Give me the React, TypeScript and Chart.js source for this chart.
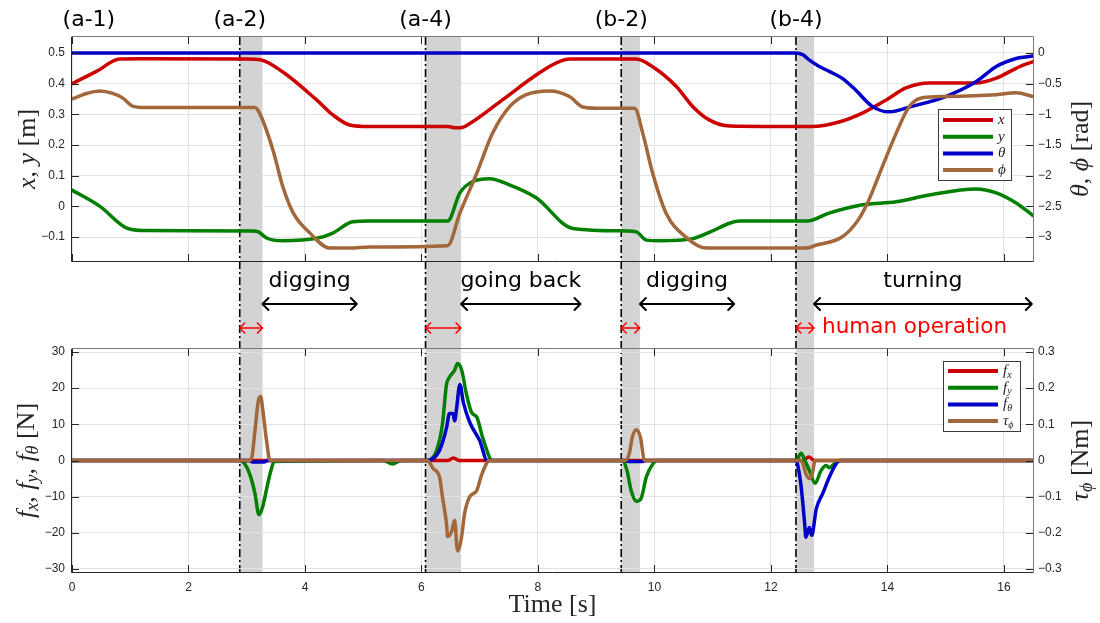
import React, { useEffect, useRef } from "react";
import { Chart, registerables } from "chart.js";
Chart.register(...registerables);

// ---------- data (top panel) ----------
const timeTicks = [0, 2, 4, 6, 8, 10, 12, 14, 16];
const posTicks = [-0.1, 0, 0.1, 0.2, 0.3, 0.4, 0.5];
const angTicks = [-3, -2.5, -2, -1.5, -1, -0.5, 0];
const forceTicks = [-30, -20, -10, 0, 10, 20, 30];
const torqueTicks = [-0.3, -0.2, -0.1, 0, 0.1, 0.2, 0.3];

const xT = [0, 0.42, 0.82, 1.2, 3.0, 3.23, 3.62, 4.2, 4.48, 4.77, 5.1, 6.45, 6.6, 6.7, 6.83, 7.39, 7.97, 8.3, 8.55, 9.69, 9.97, 10.38, 10.66, 10.94, 11.29, 12.7, 13.17, 13.57, 13.98, 14.32, 14.72, 15.52, 15.87, 16.21, 16.5];
const xV = [0.400, 0.440, 0.480, 0.481, 0.480, 0.478, 0.438, 0.347, 0.298, 0.265, 0.260, 0.260, 0.256, 0.257, 0.270, 0.347, 0.428, 0.466, 0.480, 0.480, 0.455, 0.390, 0.325, 0.282, 0.262, 0.260, 0.275, 0.304, 0.347, 0.386, 0.402, 0.402, 0.418, 0.450, 0.472];

const yT = [0, 0.48, 0.96, 1.3, 3.1, 3.2, 3.34, 3.62, 4.2, 4.48, 4.82, 5.1, 6.45, 6.66, 6.88, 7.17, 7.51, 7.97, 8.6, 9.52, 9.69, 9.86, 10.08, 10.66, 10.94, 11.29, 11.46, 12.62, 13.0, 13.57, 14.15, 14.72, 15.52, 15.87, 16.21, 16.5];
const yV = [0.053, 0.000, -0.072, -0.079, -0.080, -0.083, -0.103, -0.112, -0.104, -0.087, -0.050, -0.048, -0.048, 0.044, 0.081, 0.090, 0.070, 0.028, -0.072, -0.080, -0.083, -0.110, -0.112, -0.105, -0.085, -0.055, -0.048, -0.048, -0.022, 0.005, 0.015, 0.037, 0.057, 0.044, 0.011, -0.030];

const thT = [0, 12.43, 12.55, 12.65, 12.83, 13.0, 13.22, 13.45, 13.74, 14.03, 14.42, 15.0, 15.52, 15.87, 16.21, 16.5];
const thV = [0, 0, -0.03, -0.11, -0.22, -0.30, -0.41, -0.60, -0.87, -0.96, -0.87, -0.71, -0.47, -0.22, -0.09, -0.05];

const phT = [0, 0.25, 0.48, 0.7, 0.88, 1.05, 1.3, 3.14, 3.22, 3.45, 3.62, 3.8, 4.08, 4.43, 4.77, 5.12, 6.45, 6.66, 6.95, 7.22, 7.51, 7.8, 8.2, 8.54, 8.77, 9.0, 9.66, 9.8, 9.97, 10.2, 10.54, 10.89, 11.29, 12.6, 12.78, 13.22, 13.5, 13.68, 13.91, 14.15, 14.37, 14.6, 15.0, 15.87, 16.21, 16.5];
const phV = [-0.75, -0.66, -0.62, -0.66, -0.74, -0.87, -0.89, -0.89, -0.98, -1.58, -2.18, -2.61, -2.93, -3.18, -3.18, -3.16, -3.14, -2.61, -1.96, -1.31, -0.88, -0.68, -0.62, -0.71, -0.88, -0.90, -0.90, -1.31, -1.96, -2.61, -3.00, -3.18, -3.18, -3.18, -3.13, -3.00, -2.72, -2.40, -1.86, -1.31, -0.88, -0.73, -0.71, -0.68, -0.65, -0.71];

// ---------- data (bottom panel) ----------
const fxT = [0, 6.1, 6.45, 6.55, 6.65, 7.1, 12.55, 12.65, 12.75, 16.5];
const fxV = [0, 0, 0, 0.7, 0, 0, 0, 1, 0, 0];

const fyT = [0, 2.88, 2.96, 3.05, 3.14, 3.21, 3.27, 3.34, 3.4, 3.48, 5.35, 5.5, 5.65, 6.09, 6.26, 6.36, 6.43, 6.48, 6.57, 6.62, 6.69, 6.77, 6.86, 6.95, 7.05, 7.22, 9.45, 9.53, 9.6, 9.69, 9.77, 9.86, 9.97, 10.04, 12.43, 12.52, 12.57, 12.66, 12.76, 12.86, 12.95, 13.0, 13.12, 13.2, 16.5];
const fyV = [0, 0, -0.8, -3.7, -9, -15, -13, -8, -3.7, -0.3, 0, -1, 0, 0, 2.8, 10, 21, 23, 25, 26.8, 25, 18.5, 13.3, 12, 6.4, 0, 0, -2.8, -8.3, -11.3, -10.5, -4.6, -1, 0, 0, 2, 0.5, -2.8, -6.3, -2.8, -1.4, -2, -0.5, 0, 0];

const fthT = [0, 3.05, 3.1, 3.3, 3.35, 6.1, 6.31, 6.43, 6.48, 6.54, 6.57, 6.6, 6.66, 6.72, 6.83, 7.0, 7.13, 9.5, 9.55, 9.8, 9.85, 12.43, 12.47, 12.52, 12.58, 12.6, 12.66, 12.7, 12.78, 12.89, 13.0, 13.12, 13.18, 16.5];
const fthV = [0, 0, -0.4, -0.4, 0, 0, 2.8, 9, 13, 13, 11, 14, 21, 16, 10.5, 5.5, 0, 0, -0.3, -0.3, 0, 0, -2, -7.4, -17.5, -21.2, -18.5, -20.7, -13.3, -9.1, -4.7, -0.9, 0, 0];

const tauT = [0, 2.88, 3.05, 3.09, 3.14, 3.2, 3.24, 3.27, 3.34, 3.4, 6.1, 6.2, 6.31, 6.36, 6.43, 6.45, 6.52, 6.57, 6.62, 6.69, 6.74, 6.83, 6.95, 7.03, 7.17, 9.5, 9.57, 9.62, 9.69, 9.76, 9.83, 12.5, 12.55, 12.6, 12.66, 12.71, 12.76, 16.5];
const tauV = [0, 0, 0, 0.01, 0.08, 0.166, 0.177, 0.147, 0.055, 0, 0, -0.022, -0.046, -0.1, -0.175, -0.21, -0.195, -0.165, -0.25, -0.21, -0.147, -0.1, -0.083, -0.041, 0, 0, 0.02, 0.064, 0.085, 0.064, 0, 0, -0.009, -0.037, -0.05, -0.037, 0, 0];

// ---------- events / annotations ----------
const eventStarts = [2.88, 6.07, 9.43, 12.43];
const eventEnds = [3.27, 6.68, 9.75, 12.74];
const stageTimes = [0.29, 2.88, 6.07, 9.43, 12.43];
const stageLabels = ["(a-1)", "(a-2)", "(a-4)", "(b-2)", "(b-4)"];
const phaseLabels = ["digging", "going back", "digging", "turning"];
const phaseStarts = [3.27, 6.68, 9.75, 12.74];
const phaseEnds = [4.89, 8.73, 11.37, 16.48];
const humanLabel = "human operation";

// ---------- layout / style ----------
const W = 1100, H = 623;
const LEFT = 72, RIGHT = 1033, TOP1 = 37, BOT1 = 261, TOP2 = 349, BOT2 = 572;
const INK = "#262626";
const GRID = "#e2e2e2";
const RED = "#cc0000", GREEN = "#007f00", BLUE = "#0000c8", BROWN = "#a2673a";
const SERIF = "'Liberation Serif', 'DejaVu Serif', serif";
const SANS = "'DejaVu Sans', sans-serif";
const TICK_FONT = { family: "'Liberation Sans', Arial, sans-serif", size: 12 };

function fmt(v: number) {
  const r = Math.round(v * 100) / 100;
  return (r < 0 ? "\u2212" : "") + String(Math.abs(r));
}
const mk = (ts: number[], vs: number[]) => ts.map((t, i) => ({ x: t, y: vs[i] }));

type Part = { t: string; f: string; dy?: number };
function drawRich(ctx: CanvasRenderingContext2D, parts: Part[], x: number, y: number, rot: number, align: "center" | "left", color: string) {
  ctx.save();
  ctx.translate(x, y);
  ctx.rotate(rot);
  ctx.fillStyle = color;
  ctx.textBaseline = "middle";
  ctx.textAlign = "left";
  let w = 0;
  for (const p of parts) { ctx.font = p.f; w += ctx.measureText(p.t).width; }
  let cx = align === "center" ? -w / 2 : 0;
  for (const p of parts) {
    ctx.font = p.f;
    ctx.fillText(p.t, cx, p.dy || 0);
    cx += ctx.measureText(p.t).width;
  }
  ctx.restore();
}

function arrow(ctx: CanvasRenderingContext2D, x1: number, x2: number, y: number, color: string, lw: number, head: number) {
  ctx.save();
  ctx.strokeStyle = color;
  ctx.lineWidth = lw;
  ctx.lineCap = "round";
  ctx.lineJoin = "round";
  ctx.beginPath();
  ctx.moveTo(x1, y); ctx.lineTo(x2, y);
  ctx.moveTo(x1 + head, y - head); ctx.lineTo(x1, y); ctx.lineTo(x1 + head, y + head);
  ctx.moveTo(x2 - head, y - head); ctx.lineTo(x2, y); ctx.lineTo(x2 - head, y + head);
  ctx.stroke();
  ctx.restore();
}

function drawFrame(chart: any, leftTicks: number[], rightTicks: number[]) {
  const { ctx, chartArea: a, scales } = chart;
  ctx.save();
  ctx.lineWidth = 1;
  ctx.strokeStyle = INK;
  ctx.beginPath();
  for (const t of timeTicks) {
    const x = Math.round(scales.x.getPixelForValue(t)) + 0.5;
    ctx.moveTo(x, a.bottom); ctx.lineTo(x, a.bottom - 7);
    ctx.moveTo(x, a.top); ctx.lineTo(x, a.top + 7);
  }
  for (const v of leftTicks) {
    const y = Math.round(scales.y.getPixelForValue(v)) + 0.5;
    ctx.moveTo(a.left, y); ctx.lineTo(a.left + 7, y);
  }
  for (const v of rightTicks) {
    const y = Math.round(scales.y1.getPixelForValue(v)) + 0.5;
    ctx.moveTo(a.right, y); ctx.lineTo(a.right - 7, y);
  }
  ctx.stroke();
  ctx.beginPath();
  ctx.strokeStyle = INK;
  ctx.moveTo(a.left - 0.5, a.top); ctx.lineTo(a.left - 0.5, a.bottom + 0.5); ctx.lineTo(a.right + 0.5, a.bottom + 0.5);
  ctx.stroke();
  ctx.beginPath();
  ctx.strokeStyle = "#7a7a7a";
  ctx.moveTo(a.left - 0.5, a.top - 0.5); ctx.lineTo(a.right + 0.5, a.top - 0.5); ctx.lineTo(a.right + 0.5, a.bottom + 0.5);
  ctx.stroke();
  ctx.restore();
}

function drawLegend(ctx: CanvasRenderingContext2D, x: number, y: number, w: number, h: number, first: number, rowH: number, rows: { color: string; parts: Part[] }[]) {
  ctx.save();
  ctx.fillStyle = "#ffffff";
  ctx.fillRect(x, y, w, h);
  ctx.strokeStyle = "#3a3a3a";
  ctx.lineWidth = 1;
  ctx.strokeRect(x + 0.5, y + 0.5, w, h);
  rows.forEach((r, i) => {
    const cy = y + first + i * rowH;
    ctx.beginPath();
    ctx.strokeStyle = r.color;
    ctx.lineWidth = 4;
    ctx.moveTo(x + 5, cy); ctx.lineTo(x + 55, cy);
    ctx.stroke();
    drawRich(ctx, r.parts, x + 60, cy, 0, "left", INK);
  });
  ctx.restore();
}

const it = (s: number) => `italic ${s}px ${SERIF}`;
const rm = (s: number) => `${s}px ${SERIF}`;

const topPlugin = {
  id: "topDecor",
  beforeDatasetsDraw(chart: any) {
    const { ctx, scales } = chart;
    ctx.save();
    ctx.fillStyle = "#d3d3d3";
    eventStarts.forEach((s, i) => {
      const x1 = scales.x.getPixelForValue(s);
      const x2 = scales.x.getPixelForValue(eventEnds[i]);
      ctx.fillRect(x1, TOP1, x2 - x1, BOT2 - TOP1);
    });
    ctx.strokeStyle = "#000";
    ctx.lineWidth = 1.6;
    ctx.setLineDash([8, 3, 2, 3]);
    eventStarts.forEach((s) => {
      const x = scales.x.getPixelForValue(s);
      ctx.beginPath();
      ctx.moveTo(x, TOP1);
      ctx.lineTo(x, BOT2);
      ctx.stroke();
    });
    ctx.restore();
  },
  afterDraw(chart: any) {
    const { ctx, scales, chartArea: a } = chart;
    drawFrame(chart, posTicks, angTicks);
    const px = (t: number) => scales.x.getPixelForValue(t);
    ctx.save();
    ctx.fillStyle = "#000";
    ctx.font = `22px ${SANS}`;
    ctx.textAlign = "center";
    ctx.textBaseline = "middle";
    stageTimes.forEach((t, i) => ctx.fillText(stageLabels[i], px(t), 20));
    phaseLabels.forEach((lab, i) => {
      const x1 = px(phaseStarts[i]);
      const x2 = px(phaseEnds[i]);
      ctx.fillStyle = "#000";
      ctx.font = `22px ${SANS}`;
      ctx.fillText(lab, (x1 + x2) / 2, 281);
      arrow(ctx, x1, x2, 304, "#000", 2, 6);
    });
    eventStarts.forEach((s, i) => arrow(ctx, px(s), px(eventEnds[i]), 328, "#ff0000", 1.6, 5));
    ctx.fillStyle = "#ff0000";
    ctx.font = `21.5px ${SANS}`;
    ctx.textAlign = "left";
    ctx.fillText(humanLabel, px(eventEnds[3]) + 8, 327);
    ctx.restore();

    drawRich(ctx, [{ t: "x", f: it(26) }, { t: ", ", f: rm(26) }, { t: "y", f: it(26) }, { t: " [m]", f: rm(26) }], 28, (a.top + a.bottom) / 2, -Math.PI / 2, "center", INK);
    drawRich(ctx, [{ t: "\u03b8", f: it(26) }, { t: ", ", f: rm(26) }, { t: "\u03d5", f: it(26) }, { t: " [rad]", f: rm(26) }], 1081, (a.top + a.bottom) / 2, -Math.PI / 2, "center", INK);

    drawLegend(ctx, RIGHT - 95, TOP1 + 72, 73, 71, 11, 16.7, [
      { color: RED, parts: [{ t: "x", f: it(15) }] },
      { color: GREEN, parts: [{ t: "y", f: it(15) }] },
      { color: BLUE, parts: [{ t: "\u03b8", f: it(15) }] },
      { color: BROWN, parts: [{ t: "\u03d5", f: it(15) }] },
    ]);
  },
};

const botPlugin = {
  id: "botDecor",
  afterDraw(chart: any) {
    const { ctx, chartArea: a } = chart;
    drawFrame(chart, forceTicks, torqueTicks);
    const cy = (a.top + a.bottom) / 2;
    drawRich(ctx, [
      { t: "f", f: it(26) }, { t: "x", f: it(18), dy: 6 }, { t: ", ", f: rm(26) },
      { t: "f", f: it(26) }, { t: "y", f: it(18), dy: 6 }, { t: ", ", f: rm(26) },
      { t: "f", f: it(26) }, { t: "\u03b8", f: it(18), dy: 6 }, { t: " [N]", f: rm(26) },
    ], 27, cy, -Math.PI / 2, "center", INK);
    drawRich(ctx, [{ t: "\u03c4", f: it(26) }, { t: "\u03d5", f: it(18), dy: 6 }, { t: " [Nm]", f: rm(26) }], 1081, cy, -Math.PI / 2, "center", INK);
    drawRich(ctx, [{ t: "Time [s]", f: rm(26) }], (a.left + a.right) / 2, 605, 0, "center", INK);
    drawLegend(ctx, RIGHT - 90, TOP2 + 12, 77, 70, 10, 16.7, [
      { color: RED, parts: [{ t: "f", f: it(15) }, { t: "x", f: it(10), dy: 4 }] },
      { color: GREEN, parts: [{ t: "f", f: it(15) }, { t: "y", f: it(10), dy: 4 }] },
      { color: BLUE, parts: [{ t: "f", f: it(15) }, { t: "\u03b8", f: it(10), dy: 4 }] },
      { color: BROWN, parts: [{ t: "\u03c4", f: it(15) }, { t: "\u03d5", f: it(10), dy: 4 }] },
    ]);
  },
};

// order: later legend entries are drawn on top (lower order = drawn last)
function lineDs(label: string, data: any[], color: string, axis: string, order: number) {
  return {
    label,
    data,
    order,
    borderColor: color,
    backgroundColor: color,
    borderWidth: 3.5,
    pointRadius: 0,
    fill: false,
    cubicInterpolationMode: "monotone" as const,
    borderCapStyle: "round" as const,
    borderJoinStyle: "round" as const,
    yAxisID: axis,
  };
}

function setTicks(values: number[]) {
  return (axis: any) => { axis.ticks = values.map((v) => ({ value: v })); };
}

function yAxis(pos: "left" | "right", min: number, max: number, ticks: number[], grid: boolean, width: number, pad: number) {
  return {
    type: "linear" as const,
    position: pos,
    min, max,
    afterBuildTicks: setTicks(ticks),
    afterFit: (s: any) => { s.width = width; },
    grid: { display: grid, color: GRID, drawTicks: false },
    border: { display: false },
    ticks: { font: TICK_FONT, color: INK, padding: pad, callback: (v: any) => fmt(Number(v)) },
  };
}

export default function App() {
  const topRef = useRef<HTMLCanvasElement>(null);
  const botRef = useRef<HTMLCanvasElement>(null);

  useEffect(() => {
    const top = new Chart(topRef.current as HTMLCanvasElement, {
      type: "line",
      data: {
        datasets: [
          lineDs("x", mk(xT, xV), RED, "y", 4),
          lineDs("y", mk(yT, yV), GREEN, "y", 3),
          lineDs("theta", mk(thT, thV), BLUE, "y1", 2),
          lineDs("phi", mk(phT, phV), BROWN, "y1", 1),
        ] as any,
      },
      options: {
        animation: false,
        responsive: false,
        events: [],
        layout: { padding: { top: TOP1, left: 0, right: 0, bottom: 0 } },
        plugins: { legend: { display: false }, tooltip: { enabled: false } },
        scales: {
          x: {
            type: "linear", min: 0, max: 16.5,
            afterBuildTicks: setTicks(timeTicks),
            afterFit: (s: any) => { s.height = H - BOT1; },
            ticks: { display: false },
            grid: { color: GRID, drawTicks: false },
            border: { display: false },
          },
          y: yAxis("left", -0.178, 0.552, posTicks, true, LEFT, 7),
          y1: yAxis("right", -3.39, 0.26, angTicks, false, W - RIGHT, 5),
        } as any,
      },
      plugins: [topPlugin],
    });

    const bot = new Chart(botRef.current as HTMLCanvasElement, {
      type: "line",
      data: {
        datasets: [
          lineDs("fx", mk(fxT, fxV), RED, "y", 4),
          lineDs("fy", mk(fyT, fyV), GREEN, "y", 3),
          lineDs("ftheta", mk(fthT, fthV), BLUE, "y", 2),
          lineDs("tau", mk(tauT, tauV), BROWN, "y1", 1),
        ] as any,
      },
      options: {
        animation: false,
        responsive: false,
        events: [],
        layout: { padding: { top: TOP2, left: 0, right: 0, bottom: 0 } },
        plugins: { legend: { display: false }, tooltip: { enabled: false } },
        scales: {
          x: {
            type: "linear", min: 0, max: 16.5,
            afterBuildTicks: setTicks(timeTicks),
            afterFit: (s: any) => { s.height = H - BOT2; },
            ticks: { font: TICK_FONT, color: INK, padding: 8, maxRotation: 0, callback: (v: any) => fmt(Number(v)) },
            grid: { color: GRID, drawTicks: false },
            border: { display: false },
          },
          y: yAxis("left", -30.83, 30.83, forceTicks, true, LEFT, 7),
          y1: yAxis("right", -0.3083, 0.3083, torqueTicks, false, W - RIGHT, 5),
        } as any,
      },
      plugins: [botPlugin],
    });

    return () => { top.destroy(); bot.destroy(); };
  }, []);

  return (
    <div style={{ position: "absolute", left: 0, top: 0, width: W, height: H, background: "#ffffff" }}>
      <canvas ref={topRef} width={W} height={H} style={{ position: "absolute", left: 0, top: 0 }} />
      <canvas ref={botRef} width={W} height={H} style={{ position: "absolute", left: 0, top: 0 }} />
    </div>
  );
}
